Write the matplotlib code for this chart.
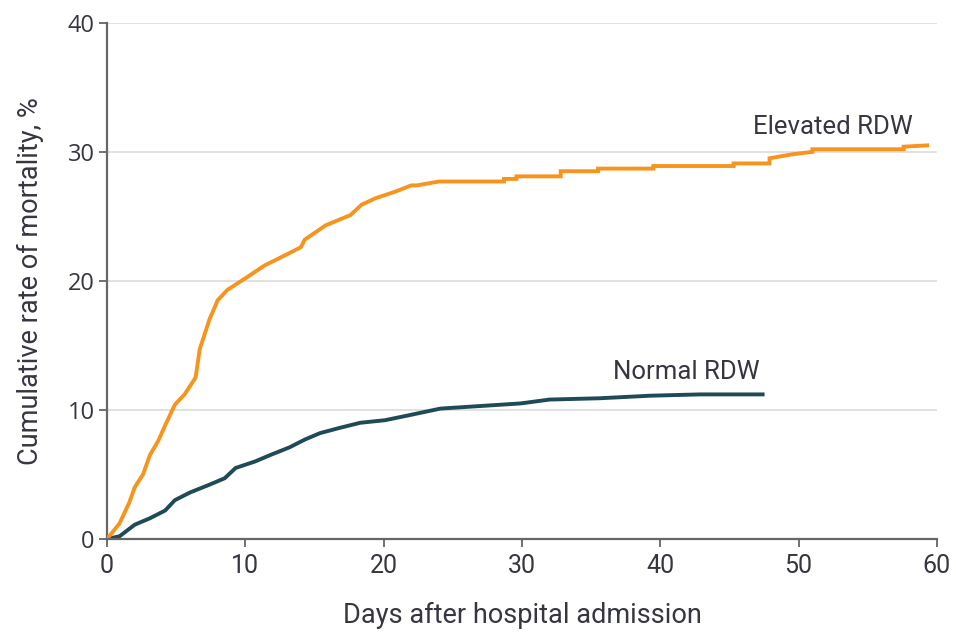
import matplotlib
matplotlib.use("Agg")
import matplotlib.pyplot as plt

# days after admission / cumulative mortality (%)
elev_days = [0, 0.9, 1.6, 2.0, 2.6, 3.1, 3.7, 4.2, 4.9, 5.6, 6.4, 6.7, 7.4, 8.0, 8.7,
             10.0, 11.4, 12.9, 14.0, 14.3, 15.8, 17.6, 18.4, 19.4, 20.8, 22.0, 22.4,
             24.0, 28.7, 28.7, 29.6, 29.6, 32.8, 32.8, 35.5, 35.5, 39.5, 39.5,
             45.3, 45.3, 47.9, 47.9, 49.5, 51.0, 51.0, 57.6, 57.6, 59.3]
elev_rate = [0, 1.2, 2.8, 4.0, 5.0, 6.5, 7.6, 8.8, 10.4, 11.2, 12.5, 14.7, 17.0, 18.5, 19.3,
             20.2, 21.2, 22.0, 22.6, 23.2, 24.3, 25.1, 25.9, 26.4, 26.9, 27.4, 27.4,
             27.7, 27.7, 27.9, 27.9, 28.1, 28.1, 28.5, 28.5, 28.7, 28.7, 28.9,
             28.9, 29.1, 29.1, 29.5, 29.8, 30.0, 30.2, 30.2, 30.4, 30.5]

norm_days = [0, 0.9, 2.0, 3.1, 4.2, 4.9, 6.0, 7.4, 8.5, 9.3, 10.7, 11.8, 13.2, 14.3,
             15.4, 16.8, 18.3, 20.1, 21.9, 24.1, 27.0, 29.9, 32.0, 35.6, 39.3, 42.9, 47.4]
norm_rate = [0, 0.2, 1.1, 1.6, 2.2, 3.0, 3.6, 4.2, 4.7, 5.5, 6.0, 6.5, 7.1, 7.7,
             8.2, 8.6, 9.0, 9.2, 9.6, 10.1, 10.3, 10.5, 10.8, 10.9, 11.1, 11.2, 11.2]

xticks = [0, 10, 20, 30, 40, 50, 60]
yticks = [0, 10, 20, 30, 40]

orange = "#f7941d"
teal = "#1f4b57"
textc = "#363642"
font = "Roboto"

fig = plt.figure(figsize=(9.56, 6.34), dpi=100)
ax = fig.add_axes([0.112, 0.150, 0.868, 0.814])

for y in yticks[1:]:
    ax.axhline(y, color="#dedede", lw=1.3, zorder=0)

ax.plot(elev_days, elev_rate, color=orange, lw=2.8, solid_joinstyle="miter", zorder=3)
ax.plot(norm_days, norm_rate, color=teal, lw=2.8, solid_joinstyle="miter", zorder=2)

ax.text(52.5, 31.9, "Elevated RDW", color=textc, fontsize=18.5, family=font,
        ha="center", va="center")
ax.text(41.9, 12.9, "Normal RDW", color=textc, fontsize=18.5, family=font,
        ha="center", va="center")

ax.set_xlim(0, 60)
ax.set_ylim(0, 40)
ax.set_xticks(xticks)
ax.set_yticks(yticks)
ax.set_xticklabels([str(t) for t in xticks], family=font, fontsize=18, color=textc)
ax.set_yticklabels([str(t) for t in yticks], family="Open Sans", fontsize=17, color=textc)

for s in ["top", "right"]:
    ax.spines[s].set_visible(False)
for s in ["left", "bottom"]:
    ax.spines[s].set_color("#666666")
    ax.spines[s].set_linewidth(1.6)
ax.spines["bottom"].set_zorder(4)
ax.tick_params(axis="both", direction="out", length=6, width=1.3, color="#666666")
ax.tick_params(axis="x", pad=5)
ax.tick_params(axis="y", pad=3)

ax.set_xlabel("Days after hospital admission", family=font, fontsize=19.5,
              color=textc, labelpad=17)
ax.set_ylabel("Cumulative rate of mortality, %", family=font, fontsize=19.5,
              color=textc, labelpad=17)

fig.savefig("out.png", dpi=100)
